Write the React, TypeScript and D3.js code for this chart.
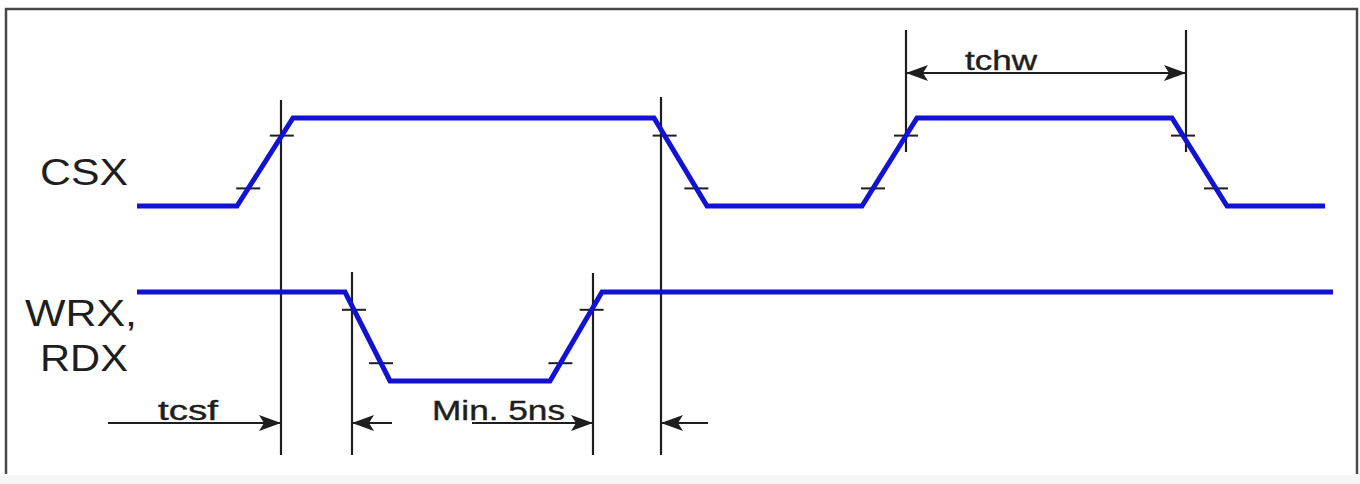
import React from "react";
import * as d3 from "d3";

// signal waveforms: [time, level] with level 0 = low, 1 = high
const csxWave: [number, number][] = [
  [0, 0], [100, 0], [156, 1], [517, 1], [570, 0],
  [725, 0], [780, 1], [1035, 1], [1090, 0], [1188, 0],
];
const wrxWave: [number, number][] = [
  [0, 1], [208, 1], [253, 0], [413, 0], [465, 1], [1196, 1],
];

// timing reference lines: time, top, bottom (pixel extents)
const markerTimes = [144, 215, 456, 524, 769, 1049];
const markerTops = [100, 272, 273, 97, 30, 30];
const markerBottoms = [455, 455, 455, 455, 152, 152];

// dimension arrows: from -> to (head at "to"), optional both heads
const arrowFrom = [-29, 255, 335, 571, 769];
const arrowTo = [144, 215, 456, 524, 1049];
const arrowRow = ["bottom", "bottom", "bottom", "bottom", "top"];
const arrowBoth = [false, false, false, false, true];

const dimLabels = ["tcsf", "Min. 5ns", "tchw"];
const dimLabelStart = [21, 295, 828];
const dimLabelWidth = [60, 133, 72];
const dimLabelRow = ["bottom", "bottom", "top"];

const signalNames = ["CSX", "WRX,", "RDX"];

const BLUE = "#1212d4";
const INK = "#1e1e1e";
const FONT = "'Liberation Sans', Arial, sans-serif";

export default function App() {
  const width = 1360;
  const height = 484;

  const x = d3.scaleLinear().domain([0, 1200]).range([137, 1337]);
  const yCsx = d3.scaleLinear().domain([0, 1]).range([206, 118]);
  const yWrx = d3.scaleLinear().domain([0, 1]).range([381, 292]);
  const rowY: Record<string, number> = { bottom: 423, top: 73 };

  const line = (ys: d3.ScaleLinear<number, number>) =>
    d3
      .line<[number, number]>()
      .x((d) => x(d[0]))
      .y((d) => ys(d[1]));

  // 20% / 80% threshold ticks on each edge
  const edgeTicks = (wave: [number, number][], ys: d3.ScaleLinear<number, number>) => {
    const out: { cx: number; cy: number }[] = [];
    for (let i = 1; i < wave.length; i++) {
      const [t0, l0] = wave[i - 1];
      const [t1, l1] = wave[i];
      if (l0 === l1) continue;
      [0.2, 0.8].forEach((lv) => {
        const f = (lv - l0) / (l1 - l0);
        out.push({ cx: x(t0 + f * (t1 - t0)), cy: ys(lv) });
      });
    }
    return out;
  };

  const ticks = [...edgeTicks(csxWave, yCsx), ...edgeTicks(wrxWave, yWrx)];

  const head = (tipX: number, y: number, dir: number) => {
    const len = 22;
    const hw = 8;
    const bx = tipX - dir * len;
    const nx = tipX - dir * (len - 5);
    return `M${tipX},${y}L${bx},${y - hw}L${nx},${y}L${bx},${y + hw}Z`;
  };

  return (
    <svg
      width={width}
      height={height}
      style={{ position: "absolute", left: 0, top: 0, background: "#fff" }}
      fontFamily={FONT}
    >
      <rect x={0} y={0} width={width} height={height} fill="#fff" />
      <rect x={0} y={475} width={width} height={9} fill="#f6f6f6" />
      {/* frame */}
      <path d={`M6,474V9H1357V474`} fill="none" stroke="#484848" strokeWidth={2.5} />

      {/* markers */}
      {markerTimes.map((t, i) => (
        <line
          key={"m" + i}
          x1={x(t)}
          x2={x(t)}
          y1={markerTops[i]}
          y2={markerBottoms[i]}
          stroke={INK}
          strokeWidth={2.2}
        />
      ))}

      {/* threshold ticks */}
      {ticks.map((d, i) => (
        <line
          key={"t" + i}
          x1={d.cx - 12}
          x2={d.cx + 12}
          y1={d.cy}
          y2={d.cy}
          stroke={INK}
          strokeWidth={2}
        />
      ))}

      {/* waveforms */}
      <path d={line(yCsx)(csxWave) ?? ""} fill="none" stroke={BLUE} strokeWidth={5} />
      <path d={line(yWrx)(wrxWave) ?? ""} fill="none" stroke={BLUE} strokeWidth={5} />

      {/* dimension arrows */}
      {arrowFrom.map((f, i) => {
        const y = rowY[arrowRow[i]];
        const x0 = x(f);
        const x1 = x(arrowTo[i]);
        const dir = x1 > x0 ? 1 : -1;
        return (
          <g key={"a" + i}>
            <line x1={x0} x2={x1} y1={y} y2={y} stroke={INK} strokeWidth={2.2} />
            <path d={head(x1, y, dir)} fill={INK} />
            {arrowBoth[i] && <path d={head(x0, y, -dir)} fill={INK} />}
          </g>
        );
      })}

      {/* dimension labels */}
      {dimLabels.map((s, i) => (
        <text
          key={"l" + i}
          x={x(dimLabelStart[i])}
          y={rowY[dimLabelRow[i]] - 3}
          fontSize={27}
          fill={INK}
          stroke={INK}
          strokeWidth={0.4}
          textLength={dimLabelWidth[i]}
          lengthAdjust="spacingAndGlyphs"
        >
          {s}
        </text>
      ))}

      {/* signal names */}
      <text x={40} y={185} fontSize={36} fill={INK} textLength={88} lengthAdjust="spacingAndGlyphs">
        {signalNames[0]}
      </text>
      <text x={25} y={326} fontSize={36} fill={INK} textLength={112} lengthAdjust="spacingAndGlyphs">
        {signalNames[1]}
      </text>
      <text x={40} y={371} fontSize={36} fill={INK} textLength={88} lengthAdjust="spacingAndGlyphs">
        {signalNames[2]}
      </text>
    </svg>
  );
}
